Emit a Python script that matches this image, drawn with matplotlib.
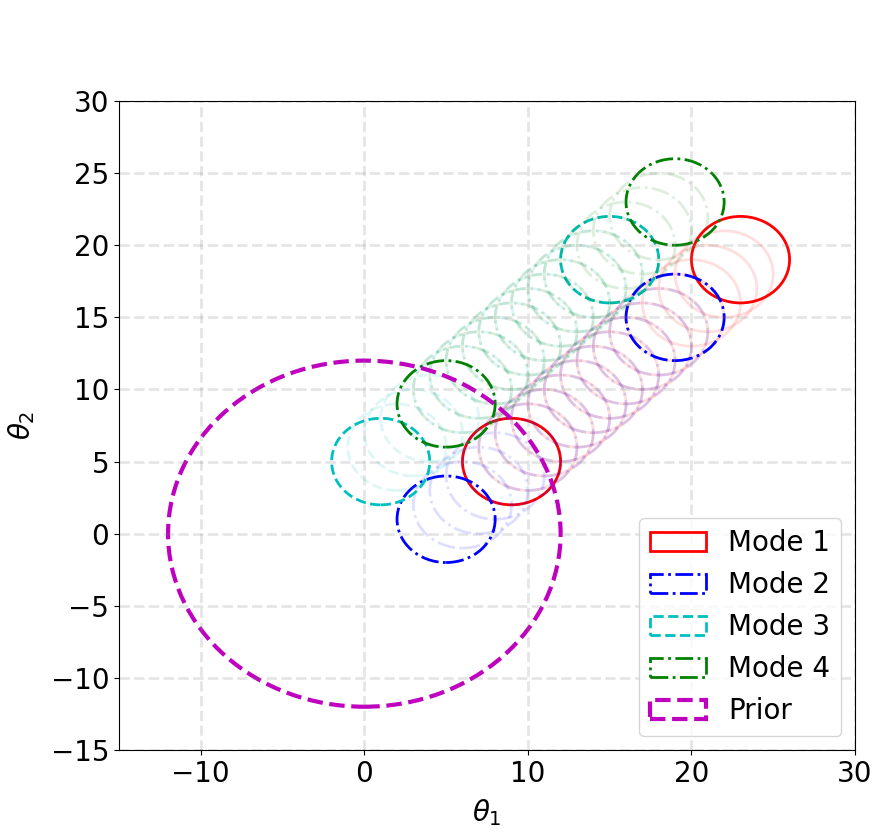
import matplotlib.pyplot as plt
from matplotlib.patches import Ellipse

# modes: start and end centres of each particle group
modes = ['Mode 1', 'Mode 2', 'Mode 3', 'Mode 4']
colors = ['r', 'b', 'c', 'g']
styles = ['-', '-.', '--', '-.']
start_x = [9, 5, 1, 5]
start_y = [5, 1, 5, 9]
# offsets along the diagonal path (same in x and y)
path_offsets = [0, 1, 2, 3, 4, 5, 6, 7, 8, 9, 10, 11, 12, 13, 14]
mode_radius = 3
prior_radius = 12
prior_center = (0, 0)

fig = plt.figure(figsize=(8.84, 8.35), dpi=100)
ax = fig.add_axes([0.1346, 0.1018, 0.8326, 0.7772])

for i in range(len(modes)):
    for k, off in enumerate(path_offsets):
        cx = start_x[i] + off
        cy = start_y[i] + off
        first_or_last = (k == 0 or k == len(path_offsets) - 1)
        e = Ellipse((cx, cy), 2 * mode_radius, 2 * mode_radius, fill=False,
                    edgecolor=colors[i], linestyle=styles[i], linewidth=2,
                    alpha=1.0 if first_or_last else 0.13,
                    label=modes[i] if k == 0 else None)
        ax.add_patch(e)

prior = Ellipse(prior_center, 2 * prior_radius, 2 * prior_radius, fill=False,
                edgecolor='m', linestyle='--', linewidth=3, label='Prior')
ax.add_patch(prior)

ax.set_xlim(-15, 30)
ax.set_ylim(-15, 30)
ax.set_xticks([-10, 0, 10, 20, 30])
ax.set_yticks(list(range(-15, 31, 5)))
ax.tick_params(labelsize=20)
ax.grid(True, linestyle='--', linewidth=2, color='gray', alpha=0.2)
ax.set_xlabel(r'$\theta_1$', fontsize=20, labelpad=7)
ax.set_ylabel(r'$\theta_2$', fontsize=20, labelpad=10)
ax.legend(loc='lower right', fontsize=20)

plt.savefig('out.png')
